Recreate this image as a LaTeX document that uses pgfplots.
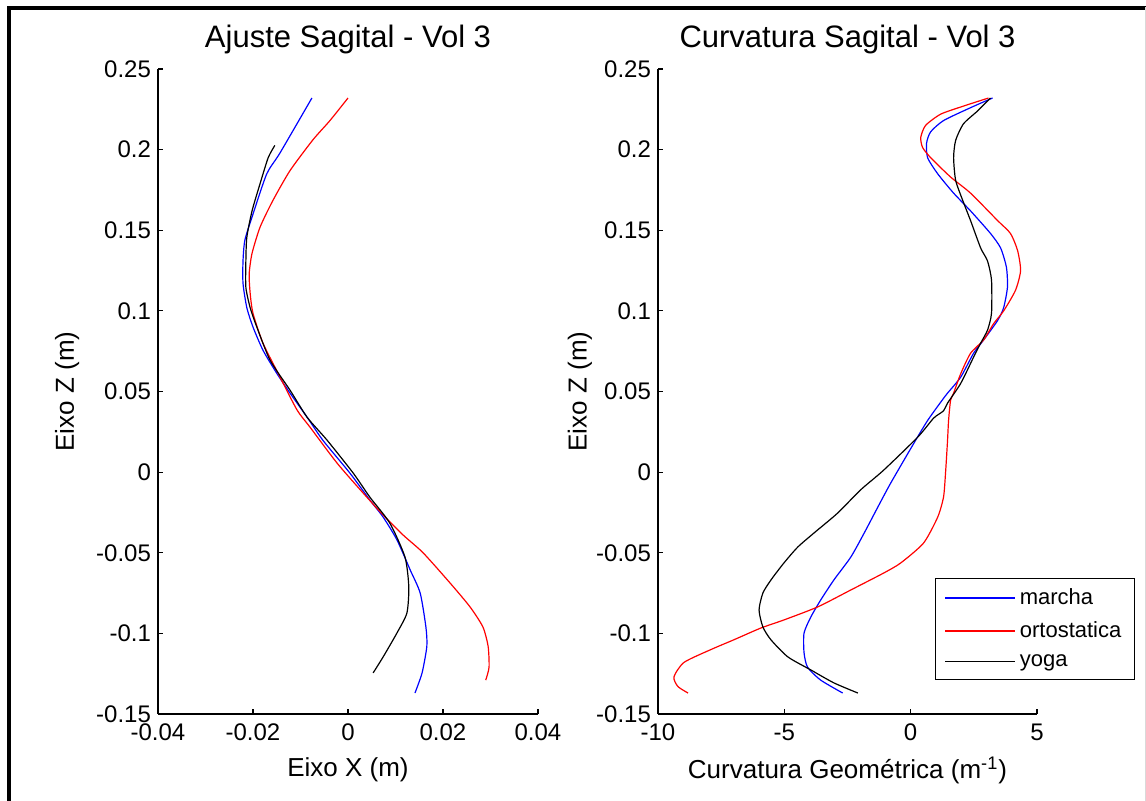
\documentclass[border=0pt]{standalone}
\usepackage{fontspec}
\setmainfont{Liberation Sans}
\usepackage{pgfplots}
\pgfplotsset{compat=1.18}
\pgfplotsset{
 every axis title shift=0pt,
 mstyle/.style={
  scale only axis, anchor=south west,
  height=322.5pt,
  scaled ticks=false,
  axis lines=left, axis line style={-, line width=0.6pt, black},
  tick align=inside, major tick length=2.5pt, tick style={line width=0.6pt, black},
  ymin=-0.15, ymax=0.25,
  ytick={-0.15,-0.1,-0.05,0,0.05,0.1,0.15,0.2,0.25},
  yticklabels={-0.15,-0.1,-0.05,0,0.05,0.1,0.15,0.2,0.25},
  ticklabel style={font=\fontsize{12}{14}\selectfont},
  xticklabel style={yshift=-1.5pt},
  label style={font=\fontsize{13}{15}\selectfont},
  title style={font=\fontsize{15.5}{18}\selectfont, at={(axis description cs:0.5,1.045)}, anchor=center},
  xlabel style={at={(axis description cs:0.5,-0.087)}, anchor=center},
  every axis plot/.append style={line width=0.6pt, smooth, tension=0.4},
 }
}
\begin{document}
\begin{tikzpicture}
\path[use as bounding box] (0,0) rectangle (573pt,400.5pt);
\fill[white] (0,0) rectangle (573pt,400.5pt);
\fill[black] (3.5pt,395.5pt) rectangle (573pt,397.5pt);
\fill[black] (3.5pt,0pt) rectangle (5.5pt,397.5pt);
\draw[black!15, line width=0.6pt] (572.6pt,0) -- (572.6pt,397pt);

\begin{axis}[mstyle, at={(79pt,43.5pt)}, width=190pt,
  xmin=-0.04, xmax=0.04,
  xtick={-0.04,-0.02,0,0.02,0.04},
  xticklabels={-0.04,-0.02,0,0.02,0.04},
  title={Ajuste Sagital - Vol 3},
  xlabel={Eixo X (m)},
  ylabel={Eixo Z (m)},
  ylabel style={at={(axis description cs:-0.239,0.5)}, anchor=center},
]
\addplot[blue] coordinates {
(-0.0076,0.232) (-0.0143,0.198) (-0.0171,0.185) (-0.0200,0.160) (-0.0217,0.144)
(-0.0221,0.131) (-0.0221,0.117) (-0.0213,0.102) (-0.0200,0.090) (-0.0179,0.0756)
(-0.0150,0.0613) (-0.0122,0.049) (-0.0086,0.034) (-0.0053,0.0198) (0.0004,-0.0006)
(0.0046,-0.0173) (0.0074,-0.0279) (0.0103,-0.042) (0.0131,-0.0607) (0.0152,-0.075)
(0.0164,-0.096) (0.0166,-0.108) (0.0156,-0.1245) (0.0141,-0.137)
};
\addplot[red] coordinates {
(0.0,0.232) (-0.0038,0.218) (-0.0074,0.206) (-0.0122,0.187) (-0.0158,0.1685)
(-0.0185,0.152) (-0.0202,0.1357) (-0.0208,0.123) (-0.0206,0.111) (-0.0200,0.0985)
(-0.0179,0.080) (-0.0143,0.0589) (-0.0107,0.0384) (-0.0080,0.0279) (-0.0023,0.0056)
(0.0032,-0.013) (0.0074,-0.0266) (0.0116,-0.039) (0.0158,-0.050) (0.0215,-0.0688)
(0.0257,-0.0836) (0.0284,-0.096) (0.0295,-0.108) (0.0297,-0.121) (0.0290,-0.129)
};
\addplot[black] coordinates {
(-0.0154,0.2026) (-0.0168,0.195) (-0.0185,0.179) (-0.0202,0.162) (-0.0213,0.1456)
(-0.0215,0.131) (-0.0215,0.1146) (-0.0206,0.102) (-0.0192,0.090) (-0.0164,0.0694)
(-0.0122,0.0508) (-0.0086,0.034) (-0.0044,0.0198) (0.0011,-0.0006) (0.0046,-0.0155)
(0.0088,-0.0316) (0.0120,-0.0527) (0.0128,-0.0712) (0.0124,-0.0874) (0.0103,-0.0998)
(0.0074,-0.1146) (0.0053,-0.1245)
};
\end{axis}

\begin{axis}[mstyle, at={(329pt,43.5pt)}, width=189.5pt,
  xmin=-10, xmax=5,
  xtick={-10,-5,0,5},
  xticklabels={-10,-5,0,5},
  title={Curvatura Sagital - Vol 3},
  xlabel={Curvatura Geométrica (m\textsuperscript{-1})},
  ylabel={Eixo Z (m)},
  ylabel style={at={(axis description cs:-0.206,0.5)}, anchor=center},
  legend style={at={(0.731,0.211)}, anchor=north west, draw=black, line width=0.6pt,
    fill=white, font=\fontsize{11}{13}\selectfont, inner xsep=4.5pt, inner ysep=3pt,
    row sep=3pt, cells={anchor=west}},
  legend image code/.code={\draw[#1] (0pt,0pt) -- (35pt,0pt);},
]
\addplot[blue] coordinates {
(3.24,0.232) (2.37,0.226) (1.30,0.218) (0.79,0.211) (0.63,0.204) (0.67,0.195)
(1.07,0.185) (1.70,0.173) (2.37,0.162) (3.16,0.148) (3.56,0.139) (3.79,0.127)
(3.83,0.1146) (3.68,0.102) (3.44,0.094) (2.89,0.082) (2.49,0.0737) (1.98,0.0589)
(1.46,0.049) (1.19,0.0434) (0.67,0.032) (0.13,0.018) (-0.79,-0.0068) (-1.30,-0.0217)
(-1.84,-0.0378) (-2.37,-0.0527) (-3.04,-0.0669) (-3.56,-0.0793) (-3.95,-0.0898)
(-4.22,-0.0998) (-4.22,-0.112) (-4.08,-0.121) (-3.56,-0.129) (-2.69,-0.137)
};
\addlegendentry{marcha}
\addplot[red] coordinates {
(3.08,0.232) (2.09,0.227) (1.19,0.222) (0.59,0.215) (0.40,0.2076) (0.47,0.2014)
(0.79,0.195) (1.58,0.183) (2.37,0.173) (3.44,0.156) (3.95,0.148) (4.23,0.1375)
(4.35,0.125) (4.15,0.1128) (3.68,0.100) (3.28,0.092) (2.89,0.082) (2.37,0.0737)
(1.98,0.061) (1.70,0.049) (1.58,0.0446) (1.50,0.032) (1.46,0.0198) (1.38,-0.0006)
(1.30,-0.0155) (1.07,-0.0279) (0.51,-0.044) (-0.40,-0.0564) (-1.07,-0.0626)
(-2.37,-0.0731) (-3.68,-0.0836) (-5.02,-0.0917) (-5.93,-0.0967) (-7.0,-0.104)
(-7.9,-0.110) (-8.97,-0.118) (-9.37,-0.127) (-9.21,-0.133) (-8.81,-0.137)
};
\addlegendentry{ortostatica}
\addplot[black] coordinates {
(3.16,0.232) (2.65,0.224) (2.09,0.216) (1.78,0.2057) (1.70,0.195) (1.78,0.181)
(2.06,0.1685) (2.37,0.156) (2.77,0.139) (3.04,0.131) (3.20,0.119) (3.20,0.0985)
(3.04,0.088) (2.77,0.080) (2.49,0.0713) (1.98,0.055) (1.46,0.0428) (1.30,0.038)
(0.91,0.0335) (0.28,0.0217) (-1.07,0.0012) (-1.98,-0.011) (-2.89,-0.0254)
(-3.83,-0.0378) (-4.47,-0.0465) (-5.02,-0.0564) (-5.53,-0.0669) (-5.85,-0.075)
(-6.0,-0.0855) (-5.85,-0.096) (-5.53,-0.104) (-4.86,-0.1146) (-3.95,-0.1227)
(-3.04,-0.1307) (-2.09,-0.137)
};
\addlegendentry{yoga}
\end{axis}
\end{tikzpicture}
\end{document}
